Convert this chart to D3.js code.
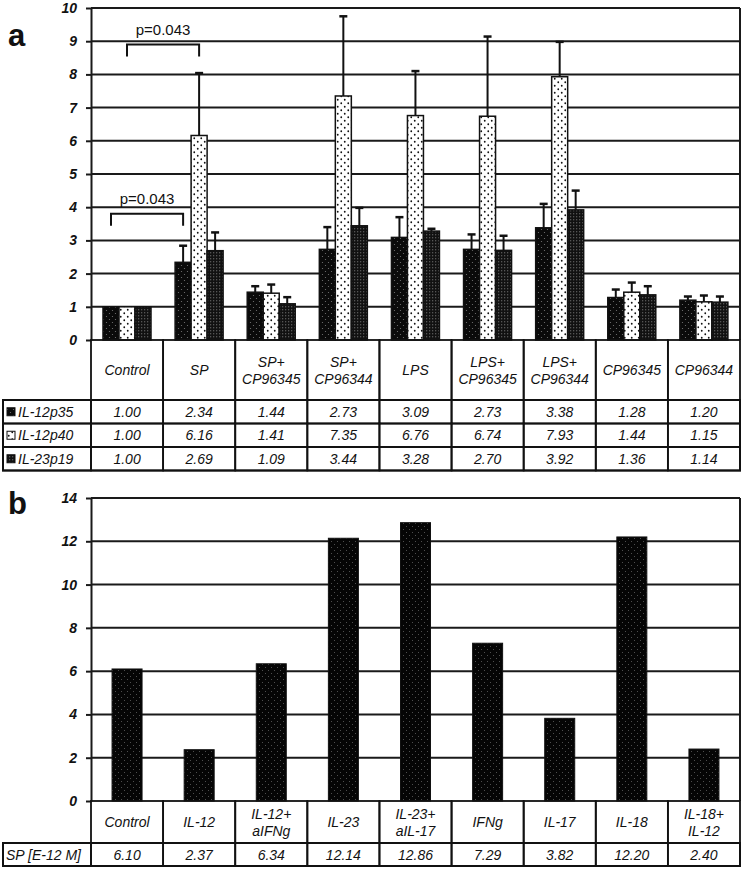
<!DOCTYPE html>
<html>
<head>
<meta charset="utf-8">
<script src="https://cdn.jsdelivr.net/npm/d3@7.9.0/dist/d3.min.js"></script>
<style>
  body { margin: 0; background: #fff; }
  svg { display: block; font-family: "Liberation Sans", Arial, sans-serif; }
</style>
</head>
<body>
<svg id="chart" width="742" height="869"></svg>
<script>
// ---- panel a data ----
const catsA = [["Control"], ["SP"], ["SP+", "CP96345"], ["SP+", "CP96344"], ["LPS"],
  ["LPS+", "CP96345"], ["LPS+", "CP96344"], ["CP96345"], ["CP96344"]];
const seriesA = ["IL-12p35", "IL-12p40", "IL-23p19"];
const p35 = [1.00, 2.34, 1.44, 2.73, 3.09, 2.73, 3.38, 1.28, 1.20];
const p40 = [1.00, 6.16, 1.41, 7.35, 6.76, 6.74, 7.93, 1.44, 1.15];
const p19 = [1.00, 2.69, 1.09, 3.44, 3.28, 2.70, 3.92, 1.36, 1.14];
// upper end of the error bars (null = none)
const p35Top = [null, 2.84, 1.62, 3.40, 3.70, 3.18, 4.10, 1.52, 1.31];
const p40Top = [null, 8.04, 1.67, 9.75, 8.10, 9.14, 8.98, 1.73, 1.34];
const p19Top = [null, 3.24, 1.29, 3.98, 3.35, 3.14, 4.50, 1.62, 1.31];
const yTicksA = [0, 1, 2, 3, 4, 5, 6, 7, 8, 9, 10];

// ---- panel b data ----
const catsB = [["Control"], ["IL-12"], ["IL-12+", "aIFNg"], ["IL-23"], ["IL-23+", "aIL-17"],
  ["IFNg"], ["IL-17"], ["IL-18"], ["IL-18+", "IL-12"]];
const spLabel = "SP [E-12 M]";
const spValues = [6.10, 2.37, 6.34, 12.14, 12.86, 7.29, 3.82, 12.20, 2.40];
const yTicksB = [0, 2, 4, 6, 8, 10, 12, 14];

const svg = d3.select("#chart");
const left = 91, right = 740, labelLeft = 3;

// patterns
const defs = svg.append("defs");
function dotPattern(id, size, bg, dot, r, stagger) {
  const p = defs.append("pattern").attr("id", id).attr("patternUnits", "userSpaceOnUse")
    .attr("width", size).attr("height", size);
  p.append("rect").attr("width", size).attr("height", size).attr("fill", bg);
  p.append("circle").attr("cx", size / 4).attr("cy", size / 4).attr("r", r).attr("fill", dot);
  if (stagger) p.append("circle").attr("cx", size * 3 / 4).attr("cy", size * 3 / 4).attr("r", r).attr("fill", dot);
}
dotPattern("pat35", 6, "#0a0a0a", "#777", 0.6, true);
dotPattern("pat40", 7, "#fff", "#111", 0.9, true);
dotPattern("pat19", 3, "#111", "#aaa", 0.5, false);
dotPattern("patB", 6, "#050505", "#666", 0.5, true);
const fills = ["url(#pat35)", "url(#pat40)", "url(#pat19)"];

function drawPanel(cfg) {
  const y = d3.scaleLinear().domain(cfg.domain).range([cfg.y0, cfg.yTop]);
  const x = d3.scaleBand().domain(d3.range(cfg.cats.length)).range([left, right]);
  const g = svg.append("g");

  // gridlines
  g.selectAll("line.grid").data(cfg.ticks.slice(1)).join("line")
    .attr("x1", left).attr("x2", right)
    .attr("y1", d => y(d)).attr("y2", d => y(d))
    .attr("stroke", "#1a1a1a").attr("stroke-width", 2);

  // axis
  const axis = g.append("g").attr("transform", `translate(${left},0)`)
    .call(d3.axisLeft(y).tickValues(cfg.ticks).tickSize(5).tickSizeOuter(0).tickPadding(9));
  axis.select(".domain").attr("stroke", "#1a1a1a").attr("stroke-width", 2);
  axis.selectAll(".tick line").attr("stroke", "#1a1a1a").attr("stroke-width", 2);
  axis.selectAll(".tick text")
    .style("font-size", "14px").style("font-weight", "bold").style("font-style", "italic")
    .style("font-family", "'Liberation Sans', Arial, sans-serif").attr("fill", "#111");

  // right border
  g.append("line").attr("x1", right).attr("x2", right).attr("y1", y(cfg.domain[1])).attr("y2", y(0))
    .attr("stroke", "#1a1a1a").attr("stroke-width", 2);

  cfg.drawBars(g, x, y);

  // panel letter
  svg.append("text").attr("x", 8).attr("y", cfg.letterY).text(cfg.letter)
    .attr("font-size", 31).attr("font-weight", "bold").attr("fill", "#111");

  // table header row
  const t = svg.append("g");
  const hdrBottom = cfg.y0 + cfg.headerH;
  cfg.cats.forEach((lines, i) => {
    t.append("rect").attr("x", x(i)).attr("y", cfg.y0).attr("width", x.bandwidth()).attr("height", cfg.headerH)
      .attr("fill", "none").attr("stroke", "#111").attr("stroke-width", 1.8);
    const txt = t.append("text").attr("x", x(i) + x.bandwidth() / 2).attr("text-anchor", "middle")
      .attr("font-size", 14).attr("font-style", "italic").attr("fill", "#111");
    const lh = 17;
    const startY = cfg.y0 + cfg.headerH / 2 - (lines.length - 1) * lh / 2 + 5;
    lines.forEach((l, k) => txt.append("tspan").attr("x", x(i) + x.bandwidth() / 2).attr("y", startY + k * lh).text(l));
  });

  // data rows
  cfg.rows.forEach((row, r) => {
    const ry = hdrBottom + r * cfg.rowH;
    t.append("rect").attr("x", labelLeft).attr("y", ry).attr("width", left - labelLeft).attr("height", cfg.rowH)
      .attr("fill", "none").attr("stroke", "#111").attr("stroke-width", 1.8);
    let tx = labelLeft + 3;
    if (row.fill) {
      t.append("rect").attr("x", labelLeft + 4).attr("y", ry + cfg.rowH / 2 - 4).attr("width", 8).attr("height", 8)
        .attr("fill", row.fill).attr("stroke", "#111").attr("stroke-width", 1);
      tx = labelLeft + 15;
    }
    t.append("text").attr("x", tx).attr("y", ry + cfg.rowH / 2 + 5).text(row.label)
      .attr("font-size", 14).attr("font-style", "italic").attr("fill", "#111");
    row.values.forEach((v, i) => {
      t.append("rect").attr("x", x(i)).attr("y", ry).attr("width", x.bandwidth()).attr("height", cfg.rowH)
        .attr("fill", "none").attr("stroke", "#111").attr("stroke-width", 1.8);
      t.append("text").attr("x", x(i) + x.bandwidth() / 2).attr("y", ry + cfg.rowH / 2 + 5)
        .attr("text-anchor", "middle").attr("font-size", 14).attr("font-style", "italic").attr("fill", "#111")
        .text(v.toFixed(2));
    });
  });
  // outer border of data rows
  t.append("rect").attr("x", labelLeft).attr("y", hdrBottom).attr("width", right - labelLeft)
    .attr("height", cfg.rows.length * cfg.rowH).attr("fill", "none").attr("stroke", "#111").attr("stroke-width", 2);
  return { x, y };
}

// ---- panel a ----
const valsA = [p35, p40, p19];
const topsA = [p35Top, p40Top, p19Top];
const a = drawPanel({
  domain: [0, 10], y0: 340, yTop: 8, ticks: yTicksA, cats: catsA, letter: "a", letterY: 46,
  headerH: 60, rowH: 23.5,
  rows: seriesA.map((s, k) => ({ label: s, values: valsA[k], fill: fills[k] })),
  drawBars(g, x, y) {
    const xs = d3.scaleBand().domain(d3.range(3)).range([12, 60]);
    seriesA.forEach((s, k) => {
      const data = valsA[k].map((v, i) => ({ i, v, top: topsA[k][i] }));
      // error bars first (behind bar)
      g.selectAll(null).data(data.filter(d => d.top != null)).join("g").each(function (d) {
        const cx = x(d.i) + xs(k) + xs.bandwidth() / 2;
        const e = d3.select(this);
        e.append("line").attr("x1", cx).attr("x2", cx).attr("y1", y(d.v)).attr("y2", y(d.top))
          .attr("stroke", "#111").attr("stroke-width", 2);
        e.append("line").attr("x1", cx - 4).attr("x2", cx + 4).attr("y1", y(d.top)).attr("y2", y(d.top))
          .attr("stroke", "#111").attr("stroke-width", 2.5);
      });
      g.selectAll(null).data(data).join("rect")
        .attr("x", d => x(d.i) + xs(k)).attr("width", xs.bandwidth())
        .attr("y", d => y(d.v)).attr("height", d => y(0) - y(d.v))
        .attr("fill", fills[k]).attr("stroke", "#111").attr("stroke-width", 1.5);
    });
  }
});

// significance brackets
const xsA = d3.scaleBand().domain(d3.range(3)).range([12, 60]);
function bracket(i1, k1, i2, k2, yv, label) {
  const x1 = a.x(i1) + xsA(k1) + xsA.bandwidth() / 2;
  const x2 = a.x(i2) + xsA(k2) + xsA.bandwidth() / 2;
  const yy = a.y(yv);
  svg.append("path").attr("d", `M${x1},${yy + 12}V${yy}H${x2}V${yy + 12}`)
    .attr("fill", "none").attr("stroke", "#111").attr("stroke-width", 2);
  svg.append("text").attr("x", (x1 + x2) / 2).attr("y", yy - 10).attr("text-anchor", "middle")
    .attr("font-size", 15).attr("fill", "#111").text(label);
}
bracket(0, 1, 1, 1, 8.9, "p=0.043");
bracket(0, 0, 1, 0, 3.8, "p=0.043");

// ---- panel b ----
drawPanel({
  domain: [0, 14], y0: 801, yTop: 498, ticks: yTicksB, cats: catsB, letter: "b", letterY: 514,
  headerH: 42, rowH: 23,
  rows: [{ label: spLabel, values: spValues }],
  drawBars(g, x, y) {
    g.selectAll(null).data(spValues).join("rect")
      .attr("x", (d, i) => x(i) + x.bandwidth() / 2 - 15).attr("width", 30)
      .attr("y", d => y(d)).attr("height", d => y(0) - y(d))
      .attr("fill", "url(#patB)").attr("stroke", "#111").attr("stroke-width", 1);
  }
});
</script>
</body>
</html>
